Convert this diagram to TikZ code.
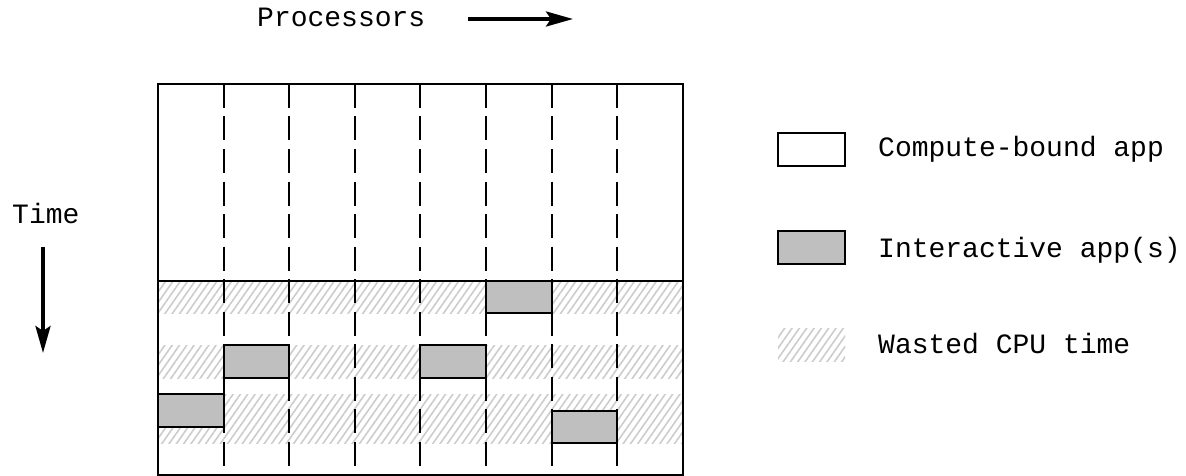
\documentclass[tikz,border=0pt]{standalone}
\usepackage{fontspec}
\setmonofont{Liberation Mono}
\usetikzlibrary{patterns.meta,arrows.meta}
\begin{document}
\begin{tikzpicture}[x=1pt,y=-1pt,
  lbl/.style={anchor=base west,inner sep=0pt,font=\ttfamily\fontsize{28}{32}\selectfont},
  frame/.style={line width=2pt},
  divider/.style={line width=2pt,dash pattern=on 24pt off 8.5pt},
  busy/.style={draw,line width=2pt,fill=gray!50},
  waste/.style={pattern={Lines[angle=55,distance=6pt,line width=1.6pt]},pattern color=gray!40},
  axis/.style={line width=3.6pt,-{Stealth[length=27pt,width=15pt,inset=5pt]}}]
\useasboundingbox (0,0) rectangle (1186,476);
% wasted CPU bands
\fill[waste] (158,281) rectangle (683,313);
\fill[waste] (158,345) rectangle (683,378);
\fill[waste] (158,394) rectangle (683,443);
% processor dividers
\foreach \i in {1,...,7}{
  \draw[divider] (158+\i*65.6,84) -- (158+\i*65.6,475);
}
% interactive app slices
\draw[busy] (486,281) rectangle (551.6,313);
\draw[busy] (223.6,345) rectangle (289.2,378);
\draw[busy] (420.4,345) rectangle (486,378);
\draw[busy] (158,394) rectangle (223.6,427);
\draw[busy] (551.6,411) rectangle (617.2,443);
% frame
\draw[frame] (158,84) rectangle (683,475);
\draw[frame] (158,281) -- (683,281);
% axis labels
\node[lbl] (proc) at (257,27) {Processors};
\coordinate (pa) at (468,19);
\coordinate (pb) at (573,19);
\draw[axis] (pa) -- (pb);
\node[lbl] (time) at (12,223) {Time};
\coordinate (ta) at (43,247);
\coordinate (tb) at (43,353);
\draw[axis] (ta) -- (tb);
% legend
\draw[line width=2pt] (778,133) rectangle (845,166);
\draw[busy] (778,231) rectangle (845,264);
\fill[waste] (778,328) rectangle (845,361);
\node[lbl] (l1) at (878,157) {Compute-bound app};
\node[lbl] (l2) at (878,257) {Interactive app(s)};
\node[lbl] (l3) at (878,353) {Wasted CPU time};
\end{tikzpicture}
\end{document}
